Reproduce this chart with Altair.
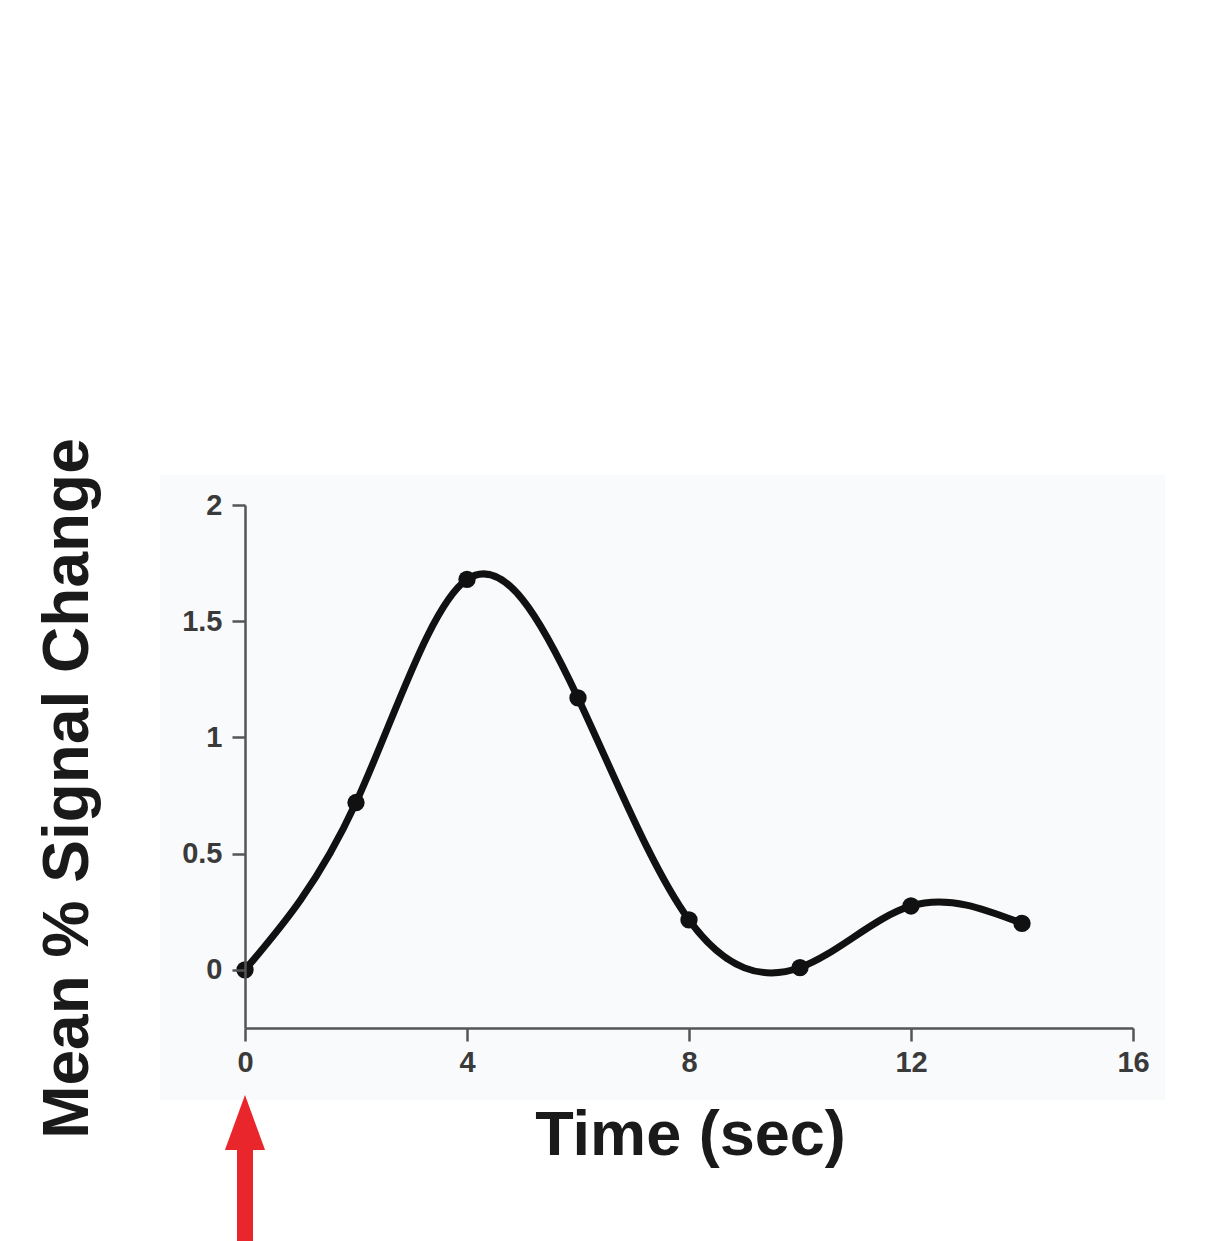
import altair as alt
import pandas as pd

# Data
time_sec = [0, 2, 4, 6, 8, 10, 12, 14]
signal_change = [0.0, 0.72, 1.68, 1.17, 0.215, 0.01, 0.275, 0.20]

x_ticks = [0, 4, 8, 12, 16]
y_ticks = [0, 0.5, 1, 1.5, 2]

df = pd.DataFrame({"t": time_sec, "v": signal_change})

W, H = 888, 523
FONT = "Liberation Sans"

x_scale = alt.Scale(domain=[0, 16], nice=False, zero=False)
y_scale = alt.Scale(domain=[-0.25, 2], nice=False, zero=False)

x_enc = alt.X(
    "t:Q", scale=x_scale,
    axis=alt.Axis(
        values=x_ticks, title="Time (sec)", format="~g", zindex=1,
        titleFontSize=63, titleFont=FONT, titleFontWeight="bold", titleColor="#1a1a1a",
        titleX=445, titleY=126, titleAlign="center", titleBaseline="alphabetic",
        labelFontSize=29, labelFont=FONT, labelFontWeight="bold", labelColor="#3a3a3a",
        labelPadding=7, tickSize=13, labelFlush=False,
    ),
)
y_enc = alt.Y(
    "v:Q", scale=y_scale,
    axis=alt.Axis(
        values=y_ticks, title="Mean % Signal Change", format="~g", zindex=1,
        titleFontSize=64, titleFont=FONT, titleFontWeight="bold", titleColor="#1a1a1a",
        titleAngle=270, titleX=-158, titleY=283, titleAlign="center", titleBaseline="alphabetic",
        labelFontSize=29, labelFont=FONT, labelFontWeight="bold", labelColor="#3a3a3a",
        labelPadding=10, tickSize=13,
    ),
)

bg = alt.Chart(pd.DataFrame({"a": [0]})).mark_rect(color="#f9fafc").encode(
    x=alt.value(-85), x2=alt.value(920), y=alt.value(-30), y2=alt.value(595)
)

line = alt.Chart(df).mark_line(
    color="#111111", strokeWidth=7, interpolate="natural"
).encode(x=x_enc, y=y_enc)

pts = alt.Chart(df).mark_circle(color="#111111", opacity=1, size=300).encode(
    x="t:Q", y="v:Q"
)

arrow_df = pd.DataFrame({"t": [0]})
shaft = alt.Chart(arrow_df).mark_rule(color="#e8262b", strokeWidth=16).encode(
    x="t:Q", y=alt.value(640), y2=alt.value(740)
)
head = alt.Chart(arrow_df).mark_point(
    shape="M0,-1L0.73,1L-0.73,1Z", filled=True, color="#e8262b", opacity=1, size=3025
).encode(x="t:Q", y=alt.value(617.5))

chart = alt.layer(bg, line, pts, shaft, head).properties(
    width=W, height=H,
    padding={"left": 245, "top": 505, "right": 78, "bottom": 213},
    autosize=alt.AutoSizeParams(type="none"),
    background="white",
).configure_view(stroke=None).configure_axis(
    grid=False, domainColor="#555555", domainWidth=2.5, tickColor="#555555", tickWidth=2.5
)

chart.save("out.html", embed_options={"renderer": "svg", "actions": False})
